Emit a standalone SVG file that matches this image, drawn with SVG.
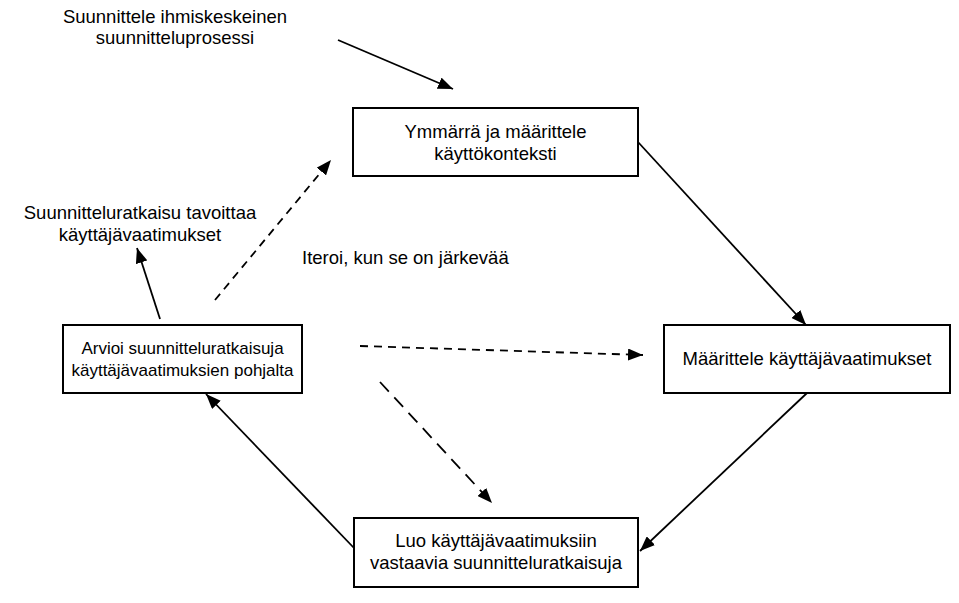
<svg xmlns="http://www.w3.org/2000/svg" width="959" height="603" viewBox="0 0 959 603">
<style>
  text { font-family: "Liberation Sans", Arial, sans-serif; font-size: 18.5px; fill: #000; }
  .c { text-anchor: middle; }
  .s { font-size: 17px; }
  .box { fill: #fff; stroke: #000; stroke-width: 2; }
  .ln { stroke: #000; stroke-width: 1.8; fill: none; marker-end: url(#ah); }
  .d1 { stroke-dasharray: 8 6; }
  .d2 { stroke-dasharray: 13 8; }
</style>
<defs>
  <marker id="ah" markerUnits="userSpaceOnUse" markerWidth="16" markerHeight="12" refX="15" refY="6" orient="auto">
    <path d="M0,0 L15,6 L0,12 Z" fill="#000"/>
  </marker>
</defs>
<rect width="959" height="603" fill="#fff"/>
<g id="connectors">
  <line class="ln" x1="338" y1="40" x2="453" y2="89"/>
  <line class="ln" x1="638" y1="142" x2="806" y2="325"/>
  <line class="ln" x1="807" y1="393" x2="640" y2="551"/>
  <line class="ln" x1="354" y1="548" x2="206" y2="394"/>
  <line class="ln" x1="160" y1="319" x2="137" y2="248"/>
  <line class="ln d1" x1="215" y1="300" x2="331" y2="160"/>
  <line class="ln d1" x1="360" y1="346" x2="643" y2="355"/>
  <line class="ln d2" x1="380" y1="382" x2="492" y2="503"/>
</g>
<g id="label-start">
  <text class="c" x="175" y="23">Suunnittele ihmiskeskeinen</text>
  <text class="c" x="175" y="44">suunnitteluprosessi</text>
</g>
<g id="label-end">
  <text class="c" x="140" y="219">Suunnitteluratkaisu tavoittaa</text>
  <text class="c" x="140" y="241">käyttäjävaatimukset</text>
</g>
<g id="label-iterate">
  <text x="302" y="264">Iteroi, kun se on järkevää</text>
</g>
<g id="node-context">
  <rect class="box" x="353" y="108" width="285" height="68"/>
  <text class="c" x="495.5" y="138">Ymmärrä ja määrittele</text>
  <text class="c" x="495.5" y="160">käyttökonteksti</text>
</g>
<g id="node-requirements">
  <rect class="box" x="664" y="325" width="286" height="68"/>
  <text class="c" x="807" y="365">Määrittele käyttäjävaatimukset</text>
</g>
<g id="node-evaluate">
  <rect class="box" x="63" y="325" width="239" height="68"/>
  <text class="c s" x="182.5" y="354">Arvioi suunnitteluratkaisuja</text>
  <text class="c s" x="182.5" y="376">käyttäjävaatimuksien pohjalta</text>
</g>
<g id="node-create">
  <rect class="box" x="354" y="518" width="284" height="69"/>
  <text class="c" x="496" y="547">Luo käyttäjävaatimuksiin</text>
  <text class="c" x="496" y="569">vastaavia suunnitteluratkaisuja</text>
</g>
</svg>
